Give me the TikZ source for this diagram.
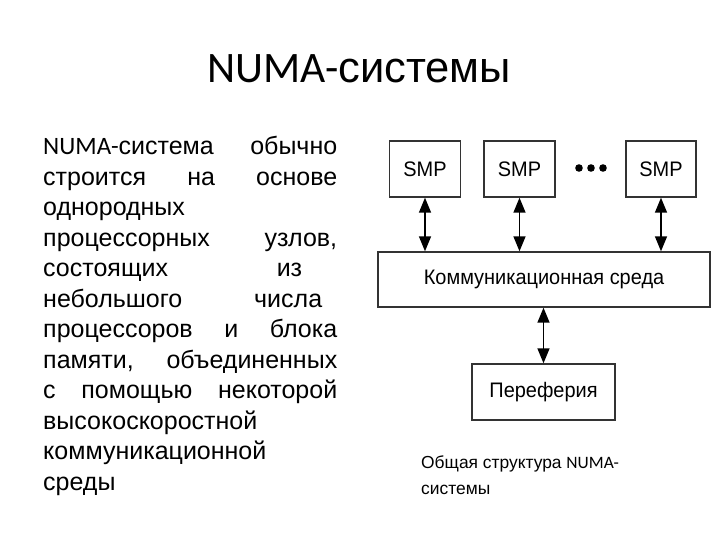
\documentclass[tikz,border=0pt]{standalone}
\usepackage{fontspec}
\setmainfont{Liberation Sans}
\newfontfamily\numafont{Carlito}
\newfontfamily\diafont[FakeStretch=0.95]{Liberation Sans}
\usetikzlibrary{arrows.meta}
\tikzset{>={Triangle[width=12pt,length=15pt]}}
\tikzset{blok/.style={draw=black!80, line width=1.4pt, minimum height=56pt,
  inner sep=0pt, font=\diafont\fontsize{21}{24}\selectfont}}

\begin{document}
\begin{tikzpicture}[x=1pt, y=-1pt]
  \useasboundingbox (0,0) rectangle (720,540);
  \node (title) at (359,69) {\fontsize{43.5}{50}\selectfont{\numafont NUMA-}системы};

  \node[anchor=north west, text width=294pt, align=justify, inner sep=0pt,
    font=\fontsize{25}{30.5}\selectfont] (opis) at (43,136) {%
    {\numafont NUMA-}система обычно\linebreak
    строится на основе\linebreak
    однородных\\
    процессорных узлов,\linebreak
    состоящих\hfill из\hspace*{35pt}\\
    небольшого\hfill числа\hspace*{15pt}\\
    процессоров и блока\linebreak
    памяти, объединенных\linebreak
    с помощью некоторой\linebreak
    высокоскоростной\\
    коммуникационной\\
    среды};

  % diagram
  \node[blok, minimum width=71pt] (smpa) at (425,169) {SMP};
  \node[blok, minimum width=71pt] (smpb) at (519.5,169) {SMP};
  \node[blok, minimum width=70pt] (smpc) at (661,169) {SMP};
  \foreach \x in {579,591,603}
    \fill (\x,168) circle (3.8pt);
  \node[blok, minimum width=332pt, minimum height=55pt] (sreda) at (544,279.5) {Коммуникационная среда};
  \node[blok, minimum width=143pt] (perif) at (543.5,392) {Переферия};

  \foreach \s in {smpa,smpb,smpc}
    \draw[<->, line width=1.5pt] (\s.south) -- (\s.south |- sreda.north);
  \draw[<->, line width=1.5pt] (sreda.south -| perif.north) -- (perif.north);

  \node[anchor=north west, align=left, inner sep=0pt,
    font=\fontsize{17.4}{26}\selectfont] (podpis) at (421,456)
    {Общая структура {\numafont NUMA-}\\системы};
\end{tikzpicture}
\end{document}
